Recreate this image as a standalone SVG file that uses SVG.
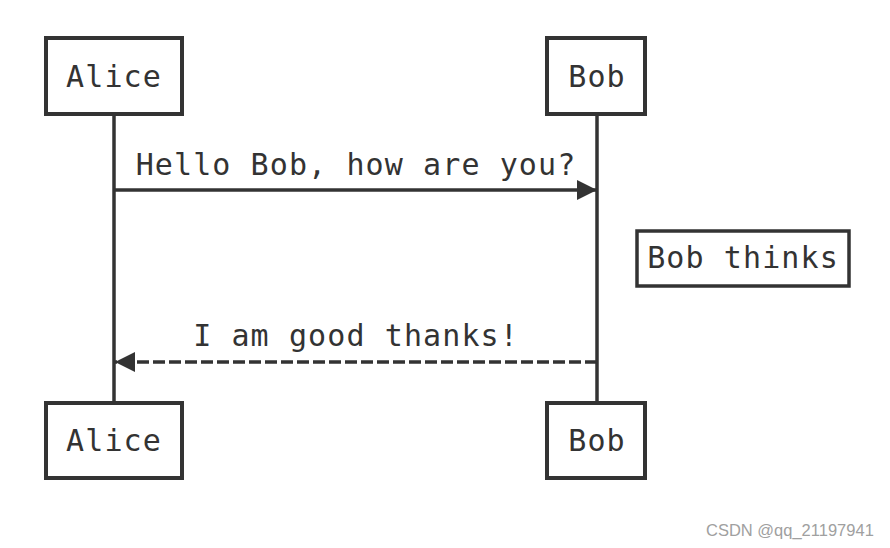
<svg xmlns="http://www.w3.org/2000/svg" width="890" height="548" viewBox="0 0 890 548">
<style>
.box{fill:#fff;stroke:#333;stroke-width:4}
.t{font-family:"DejaVu Sans Mono","Liberation Mono",monospace;font-size:30px;letter-spacing:1.1px;fill:#333;text-anchor:middle}
.life{stroke:#333;stroke-width:3.5}
.msg{stroke:#333;stroke-width:3.5;fill:none}
.wm{font-family:"Liberation Sans",Arial,sans-serif;font-size:16.5px;fill:#a0a0a0}
</style>
<defs>
<marker id="ah" markerWidth="20" markerHeight="20" refX="20" refY="10" orient="auto" markerUnits="userSpaceOnUse">
<path d="M0,0 L20,10 L0,20 z" fill="#333"/>
</marker>
</defs>
<rect width="890" height="548" fill="#fff"/>
<g id="connectors">
<line class="life" x1="114" y1="114" x2="114" y2="403"/>
<line class="life" x1="597" y1="114" x2="597" y2="403"/>
<line class="msg" x1="114" y1="190" x2="597" y2="190" marker-end="url(#ah)"/>
<text class="t" x="356" y="175">Hello Bob, how are you?</text>
<line class="msg" x1="597" y1="362" x2="115" y2="362" stroke-dasharray="12,4" marker-end="url(#ah)"/>
<text class="t" x="356" y="346">I am good thanks!</text>
</g>
<g id="alice-top"><rect class="box" x="46" y="38" width="136" height="76"/><text class="t" x="114" y="87">Alice</text></g>
<g id="bob-top"><rect class="box" x="547" y="38" width="98" height="76"/><text class="t" x="597" y="87">Bob</text></g>
<g id="note"><rect class="box" x="637" y="231" width="212" height="55" style="stroke-width:3.5"/><text class="t" x="743" y="268">Bob thinks</text></g>
<g id="alice-bottom"><rect class="box" x="46" y="403" width="136" height="75"/><text class="t" x="114" y="451">Alice</text></g>
<g id="bob-bottom"><rect class="box" x="547" y="403" width="98" height="75"/><text class="t" x="597" y="451">Bob</text></g>
<text class="wm" x="706" y="536">CSDN @qq_21197941</text>
</svg>
